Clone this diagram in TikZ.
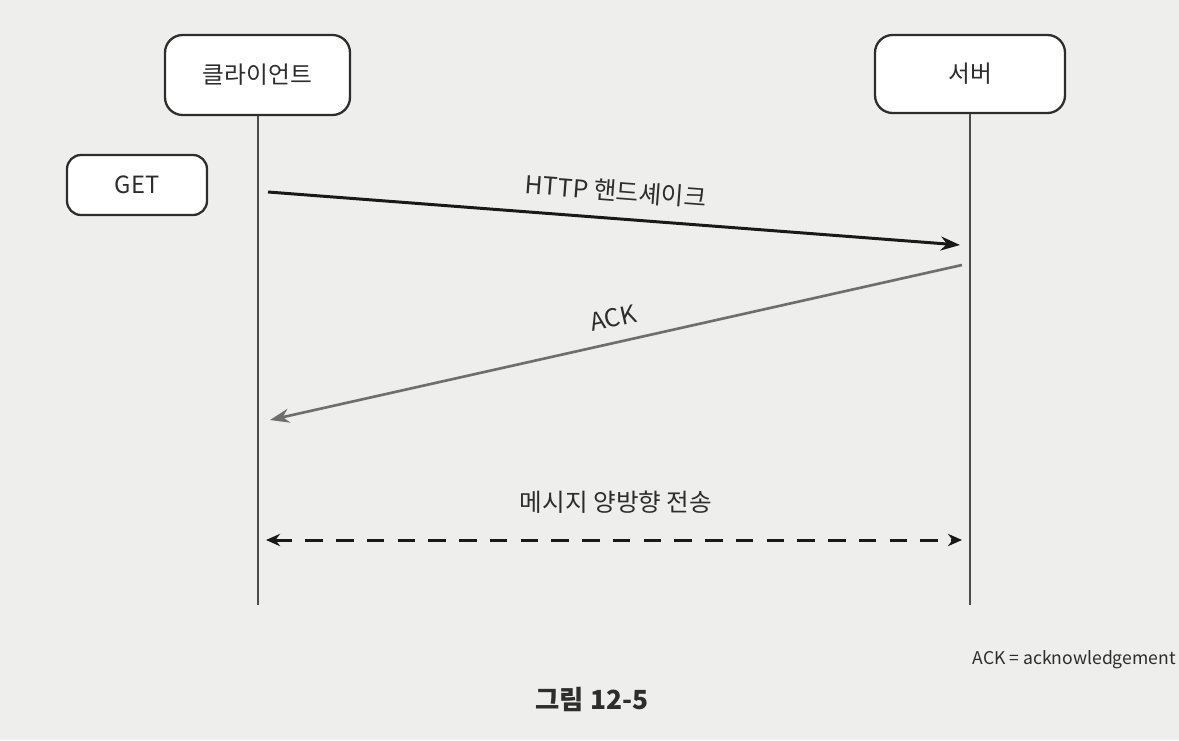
\documentclass[tikz,border=0pt]{standalone}
\usepackage{fontspec}
\setmainfont{Noto Sans CJK KR}
\usetikzlibrary{arrows.meta}
\definecolor{paper}{RGB}{238,238,236}
\definecolor{ink}{RGB}{45,45,45}
\definecolor{ackgray}{RGB}{110,110,110}
\tikzset{
  px/.style={x=0.02cm,y=-0.02cm},
  actor/.style={draw=ink, line width=1.3pt, rounded corners=10pt, fill=white, text=ink, font=\fontsize{13.5}{16}\selectfont, inner sep=0pt},
  lifeline/.style={draw=ink!85, line width=1.3pt},
  msg/.style={line width=1.7pt, -{Stealth[length=11pt,width=8pt]}},
  lbl/.style={font=\fontsize{14}{16}\selectfont, text=ink},
}
\begin{document}
\begin{tikzpicture}[px]
\useasboundingbox (0,0) rectangle (1179,740);
\fill[paper] (0,0) rectangle (1179,740);
% actors
\node[actor, minimum width=3.7cm, minimum height=1.6cm] (client) at (257.5,75) {클라이언트};
\node[actor, minimum width=3.8cm, minimum height=1.56cm] (server) at (970,74) {서버};
\node[actor, minimum width=2.8cm, minimum height=1.2cm, rounded corners=8pt] (get) at (137,185) {GET};
% lifelines
\coordinate (cl) at (258,605);
\coordinate (sl) at (970,605);
\draw[lifeline] (client.south -| cl) -- (cl);
\draw[lifeline] (server.south) -- (sl);
% message points
\coordinate (h1) at (268,192);
\coordinate (h2) at (960,245);
\coordinate (a1) at (962,265);
\coordinate (a2) at (270,420);
\coordinate (d1) at (266,540);
\coordinate (d2) at (962,540);
\draw[msg, draw=black!90] (h1) -- (h2) node[pos=0.5, sloped, above=5pt, lbl] (hl) {HTTP 핸드셰이크};
\draw[msg, draw=ackgray, line width=1.5pt] (a1) -- (a2);
\node[lbl, rotate=12.6] (al) at (613,318) {ACK};
\draw[line width=1.7pt, draw=black!90, dash pattern=on 10pt off 7.5pt, {Stealth[length=8pt,width=7pt]}-{Stealth[length=8pt,width=7pt]}] (d1) -- (d2);
\node[lbl] (dl) at (616,502) {메시지 양방향 전송};
% footnote and caption
\node[anchor=east, font=\fontsize{10}{12}\selectfont, text=ink, inner sep=0pt] (fn) at (1176,660) {ACK = acknowledgement};
\node[font=\bfseries\fontsize{15}{18}\selectfont, text=ink] (cap) at (592,700) {그림 12-5};
\end{tikzpicture}
\end{document}
